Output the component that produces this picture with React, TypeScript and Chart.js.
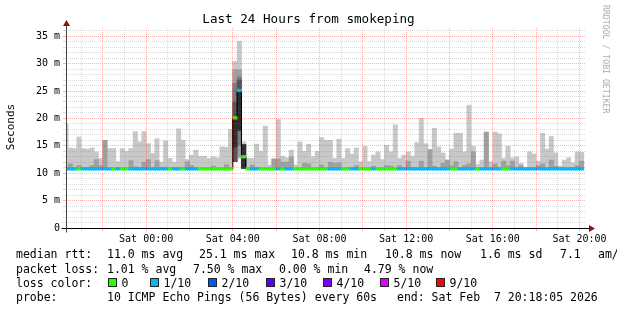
import React, { useEffect, useRef } from "react";
import { Chart, registerables } from "chart.js";

Chart.register(...registerables);

// ---- time axis (hours relative to Sat 00:00) ----
const START_HOUR = -3.6986; // Fri 20:18:05
const END_HOUR = 20.3014; // Sat 20:18:05
const FIRST_BIN_START = -3.8; // Fri 20:12, 12-minute consolidated bins
const BIN_HOURS = 0.2;

const xTickHours = [-3, -2, -1, 0, 1, 2, 3, 4, 5, 6, 7, 8, 9, 10, 11, 12, 13, 14, 15, 16, 17, 18, 19, 20];
const xLabelHours = [0, 4, 8, 12, 16, 20];
const xLabelTexts = ["Sat 00:00", "Sat 04:00", "Sat 08:00", "Sat 12:00", "Sat 16:00", "Sat 20:00"];
const yTickMs = [0, 1, 2, 3, 4, 5, 6, 7, 8, 9, 10, 11, 12, 13, 14, 15, 16, 17, 18, 19, 20, 21, 22, 23, 24, 25, 26, 27, 28, 29, 30, 31, 32, 33, 34, 35, 36];
const yLabelMs = [0, 5, 10, 15, 20, 25, 30, 35];
const yLabelTexts = ["0", "5 m", "10 m", "15 m", "20 m", "25 m", "30 m", "35 m"];

// ---- per-bin data (ms), first entry is the partial bin at the left edge ----
const smokeHigh = [
  19.0,
  14.6, 14.5, 16.6, 14.5, 14.4, 14.6, 13.9, 12.7, 16.0, 14.5,
  14.5, 12.1, 14.5, 14.0, 14.5, 17.6, 15.7, 17.6, 15.4, 13.6,
  16.3, 12.0, 15.9, 12.7, 12.0, 18.1, 16.0, 12.5, 13.3, 14.2,
  13.1, 13.1, 12.7, 13.0, 12.8, 14.8, 14.7, 18.0, 30.4, 34.1,
  15.7, 12.7, 12.7, 15.3, 14.0, 18.6, 11.5, 12.6, 19.8, 13.1,
  12.8, 14.2, 11.5, 15.7, 14.0, 15.3, 13.0, 14.0, 16.5, 16.0,
  16.0, 12.7, 16.2, 12.7, 14.5, 13.5, 14.6, 12.1, 14.9, 12.1,
  13.3, 13.9, 12.5, 15.1, 13.9, 18.8, 12.7, 13.3, 13.9, 13.1,
  15.6, 20.0, 15.4, 14.3, 18.2, 14.8, 13.7, 12.4, 14.4, 17.3,
  17.3, 13.9, 22.4, 14.9, 11.6, 12.4, 17.5, 12.1, 17.5, 17.2,
  12.7, 14.9, 12.8, 13.0, 11.8, 11.0, 13.9, 13.5, 12.2, 17.3,
  14.4, 16.7, 13.7, 11.3, 12.4, 12.8, 11.9, 13.9, 13.8,
];

const smokeMid = [
  null,
  11.7, null, 11.4, null, null, 11.4, 12.5, 11.4, 16.0, null,
  null, null, null, null, 12.3, 11.2, null, 12.0, 12.5, null,
  12.3, null, 11.1, null, null, null, 11.1, 12.1, 11.4, null,
  null, null, null, 11.3, null, null, 11.6, null, null, null,
  null, null, 11.5, null, null, null, null, 12.6, 12.6, 12.0,
  12.0, 13.0, null, null, 11.8, 11.7, null, null, 11.5, null,
  12.0, 11.8, 11.9, null, null, null, 11.4, null, null, null,
  11.3, null, null, 11.4, 11.3, null, 11.4, null, 12.2, null,
  null, 12.2, null, 14.3, 11.3, null, 11.8, 12.4, 11.4, 12.1,
  null, 11.4, 11.7, 13.9, null, null, 17.5, null, 11.7, null,
  12.2, 11.4, 12.2, null, 11.4, null, null, null, 11.4, 11.7,
  null, 12.4, 11.3, null, null, null, null, 11.4, 12.2,
];

const smokeLow = [
  10.8,
  10.8, 10.8, 10.8, 10.8, 10.8, 10.8, 10.8, 10.8, 10.8, 10.8,
  10.8, 10.8, 10.8, 10.8, 10.8, 10.8, 10.8, 10.8, 10.8, 10.8,
  10.8, 10.8, 10.8, 10.8, 10.8, 10.8, 10.8, 10.8, 10.8, 10.8,
  10.8, 10.8, 10.8, 10.8, 10.8, 10.8, 10.8, 10.8, 12.1, 12.7,
  10.9, 10.8, 10.8, 10.8, 10.8, 10.8, 10.8, 10.8, 10.8, 10.8,
  10.8, 10.8, 10.8, 10.8, 10.8, 10.8, 10.8, 10.8, 10.8, 10.8,
  10.8, 10.8, 10.8, 10.8, 10.8, 10.8, 10.8, 10.8, 10.8, 10.8,
  10.8, 10.8, 10.8, 10.8, 10.8, 10.8, 10.8, 10.8, 10.8, 10.8,
  10.8, 10.8, 10.8, 10.8, 10.8, 10.8, 10.8, 10.8, 10.8, 10.8,
  10.8, 10.8, 10.8, 10.8, 10.8, 10.8, 10.8, 10.8, 10.8, 10.8,
  10.8, 10.8, 10.8, 10.8, 10.8, 10.8, 10.8, 10.8, 10.8, 10.8,
  10.8, 10.8, 10.8, 10.8, 10.8, 10.8, 10.8, 10.8, 10.8,
];

const medianMs = [
  10.8,
  10.8, 10.8, 10.8, 10.8, 10.8, 10.8, 10.8, 10.8, 10.8, 10.8,
  10.8, 10.8, 10.8, 10.8, 10.8, 10.8, 10.8, 10.8, 10.8, 10.8,
  10.8, 10.8, 10.8, 10.8, 10.8, 10.8, 10.8, 10.8, 10.8, 10.8,
  10.8, 10.8, 10.8, 10.8, 10.8, 10.8, 10.8, 10.8, 20.1, 25.1,
  13.0, 10.8, 10.8, 10.8, 10.8, 10.8, 10.8, 10.8, 10.8, 10.8,
  10.8, 10.8, 10.8, 10.8, 10.8, 10.8, 10.8, 10.8, 10.8, 10.8,
  10.8, 10.8, 10.8, 10.8, 10.8, 10.8, 10.8, 10.8, 10.8, 10.8,
  10.8, 10.8, 10.8, 10.8, 10.8, 10.8, 10.8, 10.8, 10.8, 10.8,
  10.8, 10.8, 10.8, 10.8, 10.8, 10.8, 10.8, 10.8, 10.8, 10.8,
  10.8, 10.8, 10.8, 10.8, 10.8, 10.8, 10.8, 10.8, 10.8, 10.8,
  10.8, 10.8, 10.8, 10.8, 10.8, 10.8, 10.8, 10.8, 10.8, 10.8,
  10.8, 10.8, 10.8, 10.8, 10.8, 10.8, 10.8, 10.8, 10.8,
];

const lossTenths = [
  1,
  1, 1, 0, 1, 1, 1, 1, 1, 1, 1,
  0, 1, 0, 0, 1, 1, 1, 1, 1, 1,
  1, 1, 1, 0, 1, 1, 0, 1, 1, 1,
  0, 0, 0, 0, 0, 0, 0, 0, 0, 1,
  0, 0, 1, 1, 0, 0, 0, 0, 1, 0,
  1, 1, 0, 0, 0, 0, 0, 0, 0, 0,
  1, 1, 1, 0, 0, 1, 1, 0, 0, 0,
  1, 0, 0, 0, 0, 0, 1, 1, 1, 1,
  1, 1, 1, 1, 1, 1, 1, 1, 0, 0,
  1, 1, 1, 1, 0, 1, 1, 1, 1, 1,
  0, 0, 1, 1, 1, 1, 1, 1, 1, 1,
  1, 1, 1, 1, 1, 1, 1, 1, 1,
];

// inner smoke layers of the three spike bins
const spikeBins = [39, 40, 41];
const spikeLayer2 = [[12.1, 28.9], [13.0, 28.9], [10.9, 15.2]];
const spikeLayer3 = [[12.1, 26.4], [15.1, 27.6], [10.9, 15.2]];
const spikeLayer4 = [[12.1, 23.0], [17.8, 27.0], [10.9, 15.2]];
const spikeLayer5 = [[14.8, 20.2], [17.8, 25.0], [10.9, 15.2]];

const lossColors: Record<number, string> = {
  0: "#26ff00", 1: "#00b8ff", 2: "#0059ff", 3: "#5e00ff", 4: "#7e00ff", 5: "#dd00ff", 9: "#ff0000",
};
const legendTenths = [0, 1, 2, 3, 4, 5, 9];
const legendLabels = ["0", "1/10", "2/10", "3/10", "4/10", "5/10", "9/10"];

const MONO = '"DejaVu Sans Mono", monospace';
const MAJOR_GRID = "rgba(255, 0, 0, 0.3)";
const MINOR_GRID = "rgba(120, 120, 120, 0.26)";

const binCenter = (i: number) => FIRST_BIN_START + BIN_HOURS * (i + 0.5);

const axesPlugin = {
  id: "rrdAxes",
  afterDraw(chart: any) {
    const { ctx } = chart;
    const xs = chart.scales.x;
    const ys = chart.scales.y;
    const xl = Math.round(xs.getPixelForValue(START_HOUR)) + 0.5;
    const xr = xs.getPixelForValue(END_HOUR);
    const yb = Math.round(ys.getPixelForValue(0)) + 0.5;
    const yt = ys.getPixelForValue(36.5);
    ctx.save();
    ctx.lineWidth = 1;
    ctx.strokeStyle = "#000";
    ctx.beginPath();
    ctx.moveTo(xl - 5, yb);
    ctx.lineTo(xr + 4, yb);
    ctx.stroke();
    ctx.strokeStyle = "#444";
    ctx.beginPath();
    ctx.moveTo(xl, yb + 4);
    ctx.lineTo(xl, yt - 3);
    ctx.stroke();
    ctx.fillStyle = "#8b1010";
    ctx.beginPath();
    ctx.moveTo(xl, yt - 8);
    ctx.lineTo(xl - 3.5, yt - 2);
    ctx.lineTo(xl + 3.5, yt - 2);
    ctx.closePath();
    ctx.fill();
    ctx.beginPath();
    ctx.moveTo(xr + 9, yb);
    ctx.lineTo(xr + 3, yb - 3.5);
    ctx.lineTo(xr + 3, yb + 3.5);
    ctx.closePath();
    ctx.fill();
    ctx.restore();
  },
};

const statsLine1: [number, string][] = [
  [16, "median rtt:"], [107, "11.0 ms avg"], [199, "25.1 ms max"], [291, "10.8 ms min"],
  [385, "10.8 ms now"], [480, "1.6 ms sd"], [560, "7.1"], [598, "am/s"],
];
const statsLine2: [number, string][] = [
  [16, "packet loss:"], [107, "1.01 % avg"], [193, "7.50 % max"], [279, "0.00 % min"], [364, "4.79 % now"],
];
const statsLine4: [number, string][] = [
  [16, "probe:"], [107, "10 ICMP Echo Pings (56 Bytes) every 60s"], [397, "end: Sat Feb  7 20:18:05 2026"],
];
const legendBoxX = [108, 150, 208, 266, 323, 380, 436];

function TextAt({ x, cy, text, size = 11.5 }: { x: number; cy: number; text: string; size?: number }) {
  return (
    <div
      style={{
        position: "absolute", left: x, top: cy - 7, lineHeight: "14px", fontSize: size,
        fontFamily: MONO, whiteSpace: "pre", color: "#000",
      }}
    >
      {text}
    </div>
  );
}

export default function App() {
  const canvasRef = useRef<HTMLCanvasElement | null>(null);

  useEffect(() => {
    const canvas = canvasRef.current;
    if (!canvas) return;

    const barCommon = {
      type: "bar" as const,
      grouped: false,
      barPercentage: 1,
      categoryPercentage: 1,
      borderWidth: 0,
      clip: 0,
    };

    const layer1 = smokeHigh.map((h, i) => ({ x: binCenter(i), y: [smokeLow[i], h] }));
    const layer2: any[] = [];
    smokeMid.forEach((m, i) => {
      if (m !== null) layer2.push({ x: binCenter(i), y: [smokeLow[i], m] });
    });
    spikeBins.forEach((b, j) => layer2.push({ x: binCenter(b), y: spikeLayer2[j] }));
    const layer3 = spikeBins.map((b, j) => ({ x: binCenter(b), y: spikeLayer3[j] }));
    const layer4 = spikeBins.map((b, j) => ({ x: binCenter(b), y: spikeLayer4[j] }));
    const layer5 = spikeBins.map((b, j) => ({ x: binCenter(b), y: spikeLayer5[j] }));
    const medianBars = medianMs.map((m, i) => ({ x: binCenter(i), y: [m - 0.24, m + 0.24] }));
    const medianLine = medianMs.map((m, i) => ({ x: binCenter(i), y: m }));

    const gridColor = (ctx: any) => {
      const v = ctx.tick ? ctx.tick.value : 0;
      return ctx.scale.axis === "x"
        ? (Math.abs(v % 2) < 1e-6 ? MAJOR_GRID : MINOR_GRID)
        : (Math.abs(v % 5) < 1e-6 ? MAJOR_GRID : MINOR_GRID);
    };

    const chart = new Chart(canvas, {
      type: "bar",
      data: {
        datasets: [
          { ...barCommon, label: "smoke1", data: layer1 as any, backgroundColor: "#c8c8c8", order: 10 },
          { ...barCommon, label: "smoke2", data: layer2 as any, backgroundColor: "#a0a0a0", order: 9 },
          { ...barCommon, label: "smoke3", data: layer3 as any, backgroundColor: "#7c7c7c", order: 8 },
          { ...barCommon, label: "smoke4", data: layer4 as any, backgroundColor: "#555555", order: 7 },
          { ...barCommon, label: "smoke5", data: layer5 as any, backgroundColor: "#2e2e2e", order: 6 },
          {
            type: "line" as const, label: "medianLine", data: medianLine as any, stepped: "middle",
            borderColor: "#000", borderWidth: 1, pointRadius: 0, clip: 0, order: 2,
          } as any,
          {
            ...barCommon, label: "median", data: medianBars as any,
            backgroundColor: lossTenths.map((t) => lossColors[t]), order: 1,
          },
        ],
      },
      options: {
        responsive: false,
        animation: false,
        devicePixelRatio: 1,
        events: [],
        layout: { padding: { left: 0, right: 31, top: 28, bottom: 0 } },
        plugins: { legend: { display: false }, tooltip: { enabled: false }, title: { display: false } },
        scales: {
          x: {
            type: "linear",
            min: START_HOUR,
            max: END_HOUR,
            offset: false,
            afterBuildTicks: (s: any) => { s.ticks = xTickHours.map((v) => ({ value: v })); },
            afterFit: (s: any) => { s.height = 82; },
            ticks: {
              autoSkip: false, maxRotation: 0, minRotation: 0, padding: 2, color: "#000",
              font: { family: MONO, size: 10 },
              callback: (v: any) => {
                const k = xLabelHours.indexOf(Number(v));
                return k >= 0 ? xLabelTexts[k] : "";
              },
            },
            grid: { z: 1, offset: false, color: gridColor, tickColor: gridColor, lineWidth: 1, tickLength: 3, drawTicks: true },
            border: { display: false, dash: [1, 1] },
          },
          y: {
            type: "linear",
            min: 0,
            max: 36.5,
            afterBuildTicks: (s: any) => { s.ticks = yTickMs.map((v) => ({ value: v })); },
            afterFit: (s: any) => { s.width = 66; },
            ticks: {
              autoSkip: false, padding: 3, color: "#000",
              font: { family: MONO, size: 10 },
              callback: (v: any) => {
                const k = yLabelMs.indexOf(Number(v));
                return k >= 0 ? yLabelTexts[k] : "";
              },
            },
            grid: { z: 1, color: gridColor, tickColor: gridColor, lineWidth: 1, tickLength: 3, drawTicks: true },
            border: { display: false, dash: [1, 1] },
          },
        },
      } as any,
      plugins: [axesPlugin],
    });

    return () => chart.destroy();
  }, []);

  return (
    <div style={{ position: "fixed", left: 0, top: 0, width: 617, height: 310, background: "#fff", overflow: "hidden" }}>
      <canvas ref={canvasRef} width={617} height={310} style={{ position: "absolute", left: 0, top: 0, width: 617, height: 310 }} />
      <div
        style={{
          position: "absolute", left: 0, top: 11, width: 617, textAlign: "center", lineHeight: "16px",
          fontSize: 12.6, fontFamily: MONO, color: "#000", whiteSpace: "pre",
        }}
      >
        Last 24 Hours from smokeping
      </div>
      <div
        style={{
          position: "absolute", left: 11 - 50, top: 127 - 7, width: 100, height: 14, lineHeight: "14px",
          textAlign: "center", fontSize: 11, fontFamily: MONO, color: "#000", transform: "rotate(-90deg)",
        }}
      >
        Seconds
      </div>
      <div
        style={{
          position: "absolute", left: 611, top: 5, lineHeight: "10px", fontSize: 8.2, fontFamily: MONO,
          color: "#aaaaaa", whiteSpace: "pre", transform: "rotate(90deg)", transformOrigin: "left top",
        }}
      >
        RRDTOOL / TOBI OETIKER
      </div>
      {statsLine1.map(([x, t], i) => <TextAt key={"a" + i} x={x} cy={254} text={t} />)}
      {statsLine2.map(([x, t], i) => <TextAt key={"b" + i} x={x} cy={268.5} text={t} />)}
      <TextAt x={16} cy={282.5} text="loss color:" />
      {legendTenths.map((t, i) => (
        <React.Fragment key={"l" + i}>
          <div
            style={{
              position: "absolute", left: legendBoxX[i], top: 278, width: 7, height: 7,
              background: lossColors[t], border: "1px solid #222",
            }}
          />
          <TextAt x={legendBoxX[i] + 13.5} cy={282.5} text={legendLabels[i]} />
        </React.Fragment>
      ))}
      {statsLine4.map(([x, t], i) => <TextAt key={"d" + i} x={x} cy={297} text={t} />)}
    </div>
  );
}
